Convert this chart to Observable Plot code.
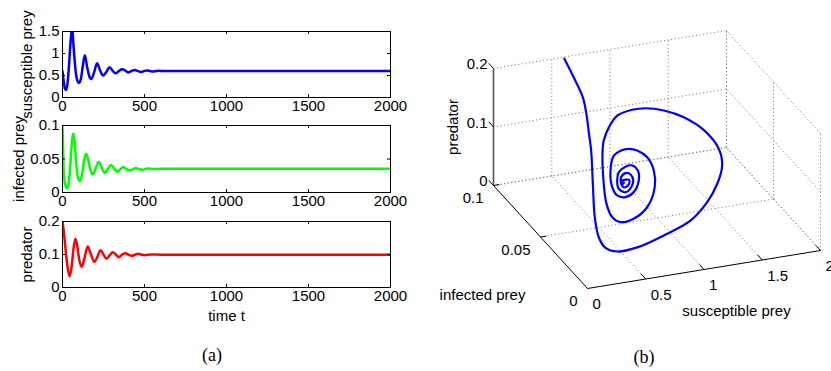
<!DOCTYPE html>
<html><head><meta charset="utf-8">
<script src="https://cdn.jsdelivr.net/npm/d3@7"></script>
<script src="https://cdn.jsdelivr.net/npm/@observablehq/plot@0.6"></script>
<style>
body{margin:0;background:#fff;}
#wrap{position:relative;width:831px;height:371px;overflow:hidden;background:#fff;}
#wrap svg{position:absolute;overflow:visible;}
.cap{position:absolute;font-family:"Liberation Serif","Times New Roman",serif;font-size:18px;transform:translate(-50%,-50%);color:#000;}
</style></head><body><div id="wrap"></div>
<script>
// ---------- data: time series ----------
const timeTicks = [0, 500, 1000, 1500, 2000];
const preyTicks = [0, 0.5, 1, 1.5];
const infectedTicks = [0, 0.05, 0.1];
const predatorTicks = [0, 0.1, 0.2];

const tSus = [0,8,15,22,30,40,50,59,66,75,86,100,112,124,136,149,162,175,192,211,229,248,267,287,305,323,343,364,382,400,420,440,458,477,496,515,534,552,571,590,620,660,700,800,1000,1500,2000];
const susceptible = [0.6,0.35,0.2,0.17,0.3,0.75,1.3,1.6,1.25,0.8,0.45,0.33,0.42,0.72,0.96,0.72,0.5,0.42,0.56,0.78,0.62,0.5,0.58,0.69,0.61,0.55,0.6,0.64,0.615,0.57,0.6,0.625,0.605,0.58,0.6,0.615,0.6,0.59,0.6,0.607,0.6,0.6,0.6,0.6,0.6,0.6,0.6];

const tInf = [0,4,8,14,22,28,36,46,56,65,72,82,92,106,118,132,144,156,170,183,198,220,238,258,275,295,315,333,350,370,390,410,430,445,465,485,520,560,600,800,2000];
const infected = [0.1,0.06,0.03,0.015,0.008,0.006,0.012,0.035,0.07,0.088,0.08,0.05,0.025,0.017,0.025,0.048,0.058,0.05,0.034,0.027,0.033,0.046,0.038,0.029,0.034,0.041,0.036,0.031,0.034,0.038,0.035,0.033,0.0345,0.0365,0.035,0.034,0.0357,0.035,0.0354,0.0353,0.0353];

const tPred = [0,10,20,30,43,55,68,79,90,102,118,132,154,170,195,212,232,250,268,287,307,325,343,362,382,400,420,440,460,480,500,540,600,800,2000];
const predator = [0.2,0.16,0.11,0.065,0.034,0.06,0.12,0.148,0.125,0.085,0.063,0.085,0.124,0.105,0.078,0.092,0.113,0.1,0.087,0.097,0.107,0.1,0.092,0.099,0.104,0.1,0.096,0.0985,0.102,0.1,0.098,0.1,0.0995,0.0995,0.0995];

// ---------- data: phase trajectory (susceptible, infected, predator) ----------
const phaseSTicks = [0, 0.5, 1, 1.5, 2];
const phaseITicks = [0, 0.05, 0.1];
const phasePTicks = [0, 0.1, 0.2];
const trajS = [0.6,0.55,0.5,0.45,0.4,0.35,0.28,0.22,0.2,0.22,0.3,0.5,0.8,1.1,1.3,1.48,1.6,1.65,1.6,1.5,1.35,1.2,1.05,0.85,0.7,0.58,0.5,0.38,0.34,0.34,0.4,0.55,0.75,0.9,0.95,0.92,0.88,0.8,0.7,0.62,0.55,0.47,0.47,0.55,0.65,0.75,0.76,0.72,0.65,0.57,0.52,0.5,0.55,0.63,0.68,0.66,0.65,0.58,0.55,0.57,0.63,0.64,0.58,0.59,0.6];
const trajI = [0.099,0.083,0.067,0.057,0.048,0.0395,0.029,0.0195,0.0128,0.0081,0.0056,0.0091,0.018,0.0268,0.0338,0.0454,0.055,0.0648,0.0738,0.0835,0.086,0.087,0.0826,0.0737,0.064,0.0546,0.046,0.0298,0.0219,0.0159,0.0145,0.019,0.0295,0.04,0.0472,0.0505,0.0562,0.0552,0.0516,0.0488,0.0437,0.032,0.0267,0.0278,0.0313,0.0384,0.0406,0.0416,0.0401,0.0373,0.0329,0.0287,0.0278,0.0316,0.0356,0.036,0.04,0.0361,0.0323,0.0313,0.0341,0.035,0.0352,0.0358,0.0357];
const trajP = [0.199,0.1975,0.193,0.184,0.167,0.155,0.119,0.08,0.0586,0.048,0.0436,0.038,0.033,0.033,0.0458,0.051,0.0615,0.071,0.088,0.097,0.109,0.116,0.126,0.138,0.14,0.138,0.135,0.114,0.095,0.083,0.075,0.068,0.0626,0.0737,0.0878,0.1056,0.1085,0.1156,0.122,0.121,0.1068,0.102,0.0968,0.0893,0.0886,0.0927,0.1054,0.1137,0.1166,0.1147,0.1099,0.1037,0.0977,0.097,0.1,0.11,0.1057,0.1078,0.104,0.099,0.0977,0.1033,0.103,0.0964,0.0984];

// ---------- rendering ----------
const FONT = '"Liberation Sans", Arial, Helvetica, sans-serif';
const wrap = document.getElementById("wrap");
const baseStyle = {fontFamily: FONT, fontSize: "15px", background: "transparent", overflow: "visible", color: "black"};

function panel(o) {
  const W = 420, ml = 62, mr = 30;
  const fw = W - ml - mr, fh = o.height - o.mt - o.mb;
  const data = o.t.map((t, i) => ({t, v: o.v[i]}));
  const inner = o.ticks.slice(1, -1);
  const innerT = timeTicks.slice(1, -1);
  const marks = [
    Plot.line(data, {x: "t", y: "v", stroke: o.color, strokeWidth: 2.5, curve: "monotone-x", clip: true}),
    Plot.tickX(innerT, {x: d => d, insetTop: fh - 3, stroke: "black"}),
    Plot.tickX(innerT, {x: d => d, insetBottom: fh - 3, stroke: "black"}),
    Plot.tickY(inner, {y: d => d, insetRight: fw - 3, stroke: "black"}),
    Plot.tickY(inner, {y: d => d, insetLeft: fw - 3, stroke: "black"}),
    Plot.frame({stroke: "black"}),
    Plot.axisX(timeTicks, {tickSize: 0, tickPadding: 3, tickFormat: d => String(d), fontSize: 15, fill: "black", label: null}),
    Plot.axisY(o.ticks, {tickSize: 0, tickPadding: 3, tickFormat: d => String(d), fontSize: 15, fill: "black", label: null}),
    Plot.text([o.label], {text: d => d, frameAnchor: "left", dx: o.labelDx, rotate: -90, textAnchor: "middle", lineAnchor: "middle", fontSize: 15, fill: "black"})
  ];
  if (o.xlabel) marks.push(Plot.text([o.xlabel], {text: d => d, frameAnchor: "bottom", dy: 29, textAnchor: "middle", lineAnchor: "middle", fontSize: 15, fill: "black"}));
  const svg = Plot.plot({
    width: W, height: o.height,
    marginLeft: ml, marginRight: mr, marginTop: o.mt, marginBottom: o.mb,
    x: {domain: [0, 2000]}, y: {domain: o.domain},
    style: baseStyle, marks
  });
  svg.style.left = "0px"; svg.style.top = o.top + "px";
  wrap.appendChild(svg);
}

panel({t: tSus, v: susceptible, color: "#0000ff", domain: [0, 1.5], ticks: preyTicks, label: "susceptible prey", labelDx: -35, top: 0, height: 120, mt: 31, mb: 23});
panel({t: tInf, v: infected, color: "#00ff00", domain: [0, 0.1], ticks: infectedTicks, label: "infected prey", labelDx: -43, top: 110, height: 100, mt: 15, mb: 18});
panel({t: tPred, v: predator, color: "#ff0000", domain: [0, 0.2], ticks: predatorTicks, label: "predator", labelDx: -35, top: 210, height: 120, mt: 11, mb: 43, xlabel: "time t"});

// ---------- 3D phase portrait (orthographic projection) ----------
const view = {sx: 116.5, sy: 19, ix: -940, iy: 1030, pz: 585};
const proj = (S, I, P) => [view.sx * S + view.ix * I, view.sy * S + view.iy * I + view.pz * P];
const Smax = phaseSTicks[phaseSTicks.length - 1];
const Imax = phaseITicks[phaseITicks.length - 1];
const Pmax = phasePTicks[phasePTicks.length - 1];
const seg = (a, b) => { const p = proj(...a), q = proj(...b); return {x1: p[0], y1: p[1], x2: q[0], y2: q[1]}; };

const grid = [];
for (const s of phaseSTicks.slice(1)) grid.push(seg([s, Imax, 0], [s, Imax, Pmax]));
for (const p of phasePTicks) grid.push(seg([0, Imax, p], [Smax, Imax, p]));
for (const i of phaseITicks) grid.push(seg([Smax, i, 0], [Smax, i, Pmax]));
for (const p of phasePTicks) grid.push(seg([Smax, 0, p], [Smax, Imax, p]));
for (const s of phaseSTicks.slice(1)) grid.push(seg([s, 0, 0], [s, Imax, 0]));
for (const i of phaseITicks.slice(1)) grid.push(seg([0, i, 0], [Smax, i, 0]));

const axesLines = [seg([0, 0, 0], [0, Imax, 0]), seg([0, 0, 0], [Smax, 0, 0])];
const zAxis = [seg([0, Imax, 0], [0, Imax, Pmax])];
const tickSegs = [];
for (const s of phaseSTicks.slice(1)) tickSegs.push(seg([s, 0, 0], [s, 0.005, 0]));
for (const i of phaseITicks.slice(1)) tickSegs.push(seg([0, i, 0], [0.05, i, 0]));
for (const p of phasePTicks) tickSegs.push(seg([0, Imax, p], [0, Imax + 0.005, p]));

const traj = trajS.map((s, k) => { const [X, Y] = proj(s, trajI[k], trajP[k]); return {X, Y}; });

const svg3 = Plot.plot({
  width: 411, height: 371, margin: 0,
  x: {domain: [-167, 244], range: [0, 411], axis: null},
  y: {domain: [-83, 288], range: [371, 0], axis: null},
  style: baseStyle,
  marks: [
    Plot.link(grid, {x1: "x1", y1: "y1", x2: "x2", y2: "y2", stroke: "#777", strokeWidth: 1, strokeDasharray: "1,2.6"}),
    Plot.link(axesLines, {x1: "x1", y1: "y1", x2: "x2", y2: "y2", stroke: "black", strokeWidth: 1}),
    Plot.link(zAxis, {x1: "x1", y1: "y1", x2: "x2", y2: "y2", stroke: "#555", strokeWidth: 1.6}),
    Plot.link(tickSegs, {x1: "x1", y1: "y1", x2: "x2", y2: "y2", stroke: "black", strokeWidth: 1}),
    Plot.line(traj, {x: "X", y: "Y", stroke: "#0000ff", strokeWidth: 2.2, curve: "catmull-rom"}),
    Plot.text(phasePTicks, {x: p => proj(0, Imax, p)[0], y: p => proj(0, Imax, p)[1], text: d => String(d), textAnchor: "end", dx: -6, dy: -4, fontSize: 15, fill: "black"}),
    Plot.text(phaseITicks, {x: i => proj(0, i, 0)[0], y: i => proj(0, i, 0)[1], text: d => String(d), textAnchor: "end", dx: -10, dy: 13, fontSize: 15, fill: "black"}),
    Plot.text(phaseSTicks, {x: s => proj(s, 0, 0)[0], y: s => proj(s, 0, 0)[1], text: d => String(d), textAnchor: "start", dx: 5, dy: 16, fontSize: 15, fill: "black"}),
    Plot.text(["predator"], {x: () => proj(0, Imax, Pmax / 2)[0], y: () => proj(0, Imax, Pmax / 2)[1], text: d => d, rotate: -90, dx: -40, fontSize: 15, fill: "black"}),
    Plot.text(["infected prey"], {x: () => proj(0, Imax / 2, 0)[0], y: () => proj(0, Imax / 2, 0)[1], text: d => d, dx: -58, dy: 58.5, fontSize: 15, fill: "black"}),
    Plot.text(["susceptible prey"], {x: () => proj(Smax / 2, 0, 0)[0], y: () => proj(Smax / 2, 0, 0)[1], text: d => d, dx: 32.5, dy: 42, fontSize: 15, fill: "black"})
  ]
});
svg3.style.left = "420px"; svg3.style.top = "0px";
wrap.appendChild(svg3);

// captions
for (const [txt, x, y] of [["(a)", 212, 355], ["(b)", 644, 357]]) {
  const d = document.createElement("div");
  d.className = "cap"; d.textContent = txt;
  d.style.left = x + "px"; d.style.top = y + "px";
  wrap.appendChild(d);
}
</script></body></html>
